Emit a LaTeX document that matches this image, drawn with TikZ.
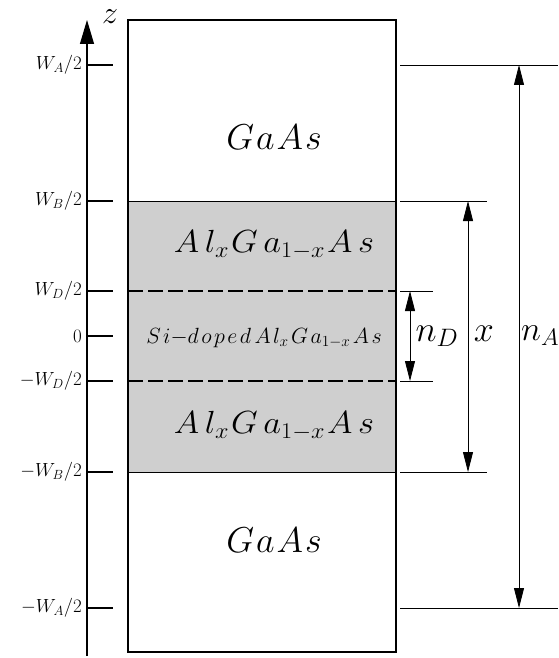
\RequirePackage{fix-cm}
\documentclass[tikz,border=0pt]{standalone}
\usepackage{tikz}
\usetikzlibrary{arrows.meta}
\definecolor{layergray}{HTML}{CFCFCF}
\newcommand{\lgap}{\mkern3mu}
\tikzset{
    lab/.style={
        font=\fontsize{19}{22}\selectfont, anchor=east, inner sep=1pt
    },
    mat/.style={
        font=\fontsize{36}{40}\selectfont, inner sep=0pt
    },
    dimarrow/.style={
        {Triangle[length=20pt,width=10pt]}-{Triangle[length=20pt,width=10pt]},
        line width=0.8pt, shorten <=0pt, shorten >=0pt
    }
}

\begin{document}
\begin{tikzpicture}[x=1pt,y=-1pt, line join=miter]
\useasboundingbox (0,0) rectangle (558,658);

\def\yA{65}
\def\yB{201}
\def\yD{291}
\def\yO{336}
\def\yd{381}
\def\yb{472}
\def\ya{608}

% AlGaAs barrier and doped layer
\fill[layergray] (128,\yB) rectangle (396,\yb);
\draw[line width=1.6pt, dash pattern=on 15pt off 5pt] (128,\yD) -- (396,\yD);
\draw[line width=1.6pt, dash pattern=on 15pt off 5pt] (128,\yd) -- (396,\yd);
\draw[line width=0.6pt] (128,\yB) -- (396,\yB);
\draw[line width=0.6pt] (128,\yb) -- (396,\yb);
\draw[line width=2.4pt] (128,20) rectangle (396,652);

% z axis
\coordinate (zbot) at (87,656);
\coordinate (ztop) at (87,20);
\draw[line width=1.2pt, -{Triangle[length=24pt,width=14pt]}] (zbot) -- (ztop);
\node[font=\fontsize{32}{34}\selectfont, inner sep=0pt] (zlab) at (110,17) {$z$};

\foreach \yy/\txt in {\yA/{W_A/2},\yB/{W_B/2},\yD/{W_D/2},\yO/{0},\yd/{-W_D/2},\yb/{-W_B/2},\ya/{-W_A/2}} {
  \draw[line width=1.2pt] (88,\yy) -- (113,\yy);
  \node[lab] at (83,\yy) {$\txt$};
}

% layer names
\node[mat] (topgaas) at (274,137) {$G\mkern1mu a\mkern1mu A\mkern1mu s$};
\node[mat, font=\fontsize{32}{36}\selectfont, xscale=1.08] (upalgaas) at (274,245)
  {$A\lgap l_x\mkern1mu G\lgap a_{1-x}\mkern1mu A\lgap s$};
\node[mat, font=\fontsize{22}{26}\selectfont] (dopedlab) at (264,338)
  {$S\mkern2mu i{-}d\mkern2mu o\mkern2mu p\mkern2mu e\mkern2mu d\,A\mkern2mu l_x\mkern2mu G\mkern2mu a_{1-x}\mkern2mu A\mkern2mu s$};
\node[mat, font=\fontsize{32}{36}\selectfont, xscale=1.08] (lowalgaas) at (274,426)
  {$A\lgap l_x\mkern1mu G\lgap a_{1-x}\mkern1mu A\lgap s$};
\node[mat] (botgaas) at (274,540) {$G\mkern1mu a\mkern1mu A\mkern1mu s$};

% dimension lines
\coordinate (nAt) at (519,\yA);
\coordinate (nAb) at (519,\ya);
\coordinate (xt) at (468,\yB);
\coordinate (xb) at (468,\yb);
\coordinate (nDt) at (410,\yD);
\coordinate (nDb) at (410,\yd);

\draw[line width=0.8pt] (400,\yA) -- (558,\yA);
\draw[line width=0.8pt] (400,\ya) -- (558,\ya);
\draw[line width=0.8pt] (400,\yB) -- (487,\yB);
\draw[line width=0.8pt] (400,\yb) -- (487,\yb);
\draw[line width=0.8pt] (400,\yD) -- (433,\yD);
\draw[line width=0.8pt] (400,\yd) -- (433,\yd);

\draw[dimarrow] (nAt) -- (nAb);
\draw[dimarrow] (xt) -- (xb);
\draw[dimarrow] (nDt) -- (nDb);

\node[mat, anchor=west, font=\fontsize{34}{38}\selectfont] (nAlab) at (521,336) {$n_A$};
\node[mat] (xlab) at (484,334) {$x$};
\node[mat] (nDlab) at (437,336) {$n_D$};

\end{tikzpicture}
\end{document}
